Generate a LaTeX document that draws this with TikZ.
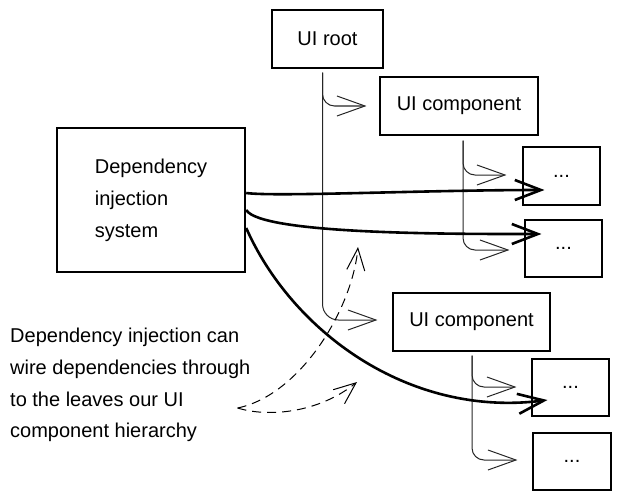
\documentclass[tikz,border=0pt]{standalone}
\usepackage{fontspec}
\setmainfont{Liberation Sans}
\usetikzlibrary{arrows.meta,calc}
\begin{document}
\begin{tikzpicture}[x=1pt,y=-1pt,
  box/.style={draw,line width=1.1pt,inner sep=0pt,font=\fontsize{20}{24}\selectfont},
  dibox/.style={draw,line width=2.4pt,align=left,inner sep=0pt,font=\fontsize{20}{32}\selectfont},
  notetext/.style={align=left,inner sep=0pt,anchor=west,font=\fontsize{20}{31.7}\selectfont},
  tree/.style={draw=black!85,line width=1pt,rounded corners=12pt,-{Straight Barb[length=28pt,width=20pt]}},
  wire/.style={draw=black,line width=2.6pt,-{Straight Barb[length=26pt,width=20pt]}},
  hint/.style={draw=black,line width=1pt,dash pattern=on 9pt off 6pt,-{Straight Barb[length=22pt,width=18pt]}}]
\useasboundingbox (0,0) rectangle (620,500);

% nodes
\node[box,minimum width=111pt,minimum height=58pt] (root) at (327.5,39) {UI root};
\node[box,minimum width=158pt,minimum height=58pt] (comp1) at (459,106) {UI component};
\node[box,minimum width=77pt,minimum height=58pt] (leaf1) at (561.5,176) {...};
\node[box,minimum width=77pt,minimum height=57pt] (leaf2) at (563.5,248.5) {...};
\node[box,minimum width=157pt,minimum height=58pt] (comp2) at (471.5,322) {UI component};
\node[box,minimum width=77pt,minimum height=57pt] (leaf3) at (570.5,387.5) {...};
\node[box,minimum width=78pt,minimum height=57pt] (leaf4) at (572,461.5) {...};
\node[dibox,minimum width=188pt,minimum height=144pt] (di) at (151,200) {Dependency\\injection\\system};
\node[notetext] (note) at (10,385) {Dependency injection can\\wire dependencies through\\to the leaves our UI\\component hierarchy};

% tree connectors
\draw[tree] ([xshift=-5pt,yshift=-4pt]root.south) |- ([xshift=-13pt]comp1.west);
\draw[tree,rounded corners=16pt] ([xshift=-5pt,yshift=-4pt]root.south) |- ([xshift=-15pt,yshift=2pt]comp2.west);
\draw[tree] ([xshift=4pt,yshift=-5pt]comp1.south) |- ([xshift=-16pt,yshift=1pt]leaf1.west);
\draw[tree] ([xshift=4pt,yshift=-5pt]comp1.south) |- ([xshift=-15pt,yshift=-1.5pt]leaf2.west);
\draw[tree] ([xshift=0.5pt,yshift=-4pt]comp2.south) |- ([xshift=-15pt,yshift=0.5pt]leaf3.west);
\draw[tree] ([xshift=0.5pt,yshift=-4pt]comp2.south) |- ([xshift=-15pt,yshift=1.5pt]leaf4.west);

% dependency injection wires
\draw[wire] ([yshift=7pt]di.east) .. controls +(30,4) and +(-120,0) .. ([xshift=22pt,yshift=-14pt]leaf1.west);
\draw[wire] ([yshift=-10pt]di.east) .. controls +(15,25) and +(-80,0) .. ([xshift=17pt,yshift=14.5pt]leaf2.west);
\draw[wire] ([yshift=-28pt]di.east) .. controls +(45,102) and +(-140,18) .. ([xshift=16pt,yshift=-12.5pt]leaf3.west);

% hints
\coordinate (hs) at ([xshift=-13pt,yshift=-23pt]note.east);
\coordinate (h1) at (358,247);
\coordinate (h2) at (357,382);
\draw[hint] (hs) .. controls (300,395) and (352,310) .. (h1);
\draw[hint] (hs) .. controls (270,418) and (320,412) .. (h2);
\end{tikzpicture}
\end{document}
